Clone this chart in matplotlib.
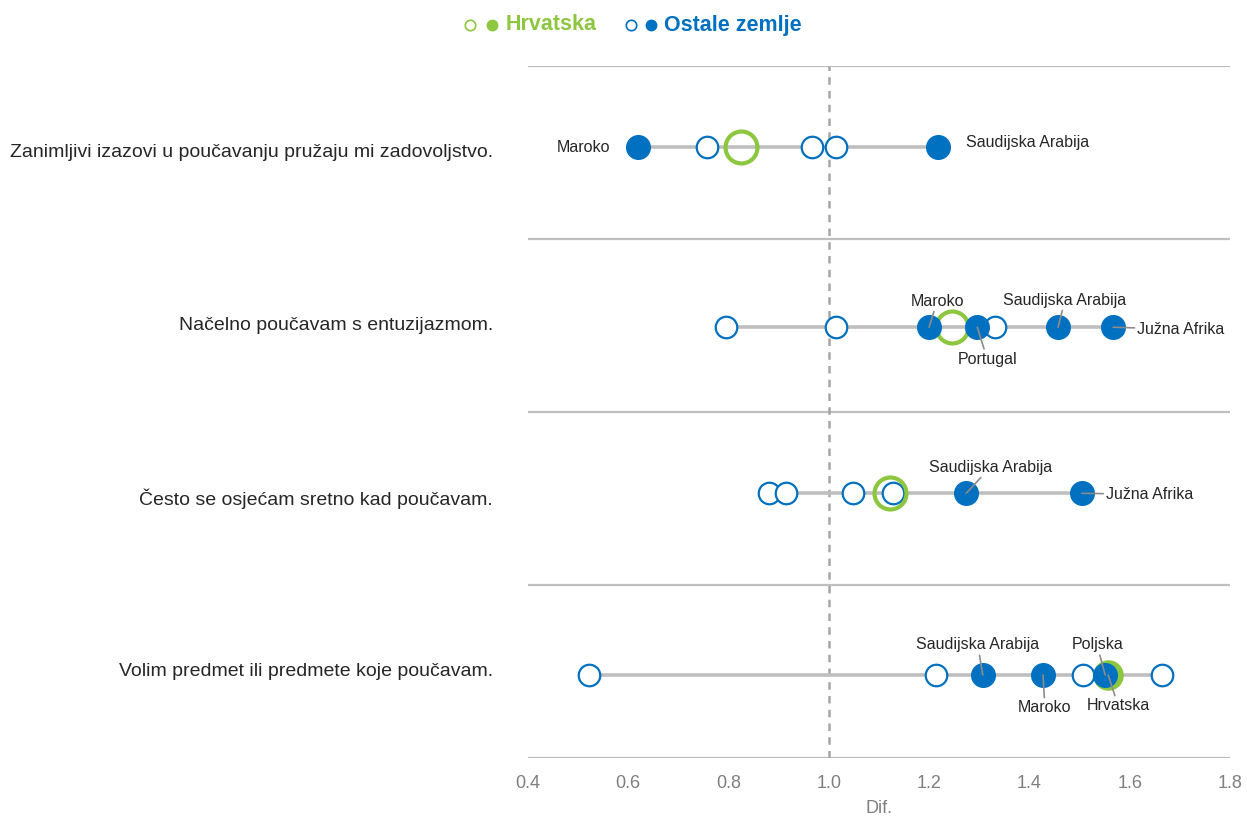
import matplotlib.pyplot as plt
from matplotlib.lines import Line2D

plt.rcParams['font.family'] = ['Liberation Sans', 'DejaVu Sans']

# ---- data ----
categories = ['Zanimljivi izazovi u poučavanju pružaju mi zadovoljstvo.',
              'Načelno poučavam s entuzijazmom.',
              'Često se osjećam sretno kad poučavam.',
              'Volim predmet ili predmete koje poučavam.']
hr_values = [0.825, 1.246, 1.122, 1.557]
hr_filled = [False, False, False, True]
other_open = [[0.757, 0.966, 1.014],
              [0.795, 1.014, 1.331],
              [0.881, 0.915, 1.048, 1.128],
              [0.522, 1.214, 1.507, 1.664]]
other_filled = [[0.619, 1.218],
                [1.200, 1.296, 1.457, 1.567],
                [1.274, 1.505],
                [1.307, 1.427, 1.551]]
filled_names = [['Maroko', 'Saudijska Arabija'],
                ['Maroko', 'Portugal', 'Saudijska Arabija', 'Južna Afrika'],
                ['Saudijska Arabija', 'Južna Afrika'],
                ['Saudijska Arabija', 'Maroko', 'Poljska']]

# ---- layout ----
row_y = [3.53, 2.49, 1.53, 0.48]     # vertical position of the dots in each band
# label offsets in pixels (dx, dy, ha, leader line)
name_offsets = [[(-28, 0, 'right', False), (28, 5, 'left', False)],
                [(8, 26, 'center', True), (10, -32, 'center', True),
                 (7, 27, 'center', True), (24, -2, 'left', True)],
                [(24, 26, 'center', True), (24, -1, 'left', True)],
                [(-5, 30, 'center', True), (2, -33, 'center', True),
                 (-8, 30, 'center', True)]]
hr_label_offset = (10, -31)

GREEN = '#8DC63F'
BLUE = '#0070C0'
GREY_LINE = '#BFBFBF'
LEADER = '#8C8C8C'
TEXT = '#262626'

fig = plt.figure(figsize=(12.47, 8.21), dpi=100)
ax = fig.add_axes([528 / 1247, 1 - 758 / 821, (1230 - 528) / 1247, (758 - 66) / 821])

ax.set_xlim(0.4, 1.8)
ax.set_ylim(0, 4)

# band separators
for yy in range(5):
    ax.axhline(yy, color='#BFBFBF', linewidth=1.6, zorder=1)
ax.axvline(1.0, color='#A6A6A6', linestyle=(0, (3, 2.5)), linewidth=1.8, zorder=1)

for i in range(len(categories)):
    y = row_y[i]
    allx = other_open[i] + other_filled[i] + [hr_values[i]]
    ax.plot([min(allx), max(allx)], [y, y], color=GREY_LINE, linewidth=2.6,
            solid_capstyle='butt', zorder=2)
    ax.plot(other_open[i], [y] * len(other_open[i]), 'o', ms=15.5, mfc='white',
            mec=BLUE, mew=1.6, linestyle='none', zorder=3)
    if hr_filled[i]:
        ax.plot([hr_values[i]], [y], 'o', ms=21, mfc=GREEN, mec=GREEN, zorder=4)
    else:
        ax.plot([hr_values[i]], [y], 'o', ms=23, mfc='none', mec=GREEN, mew=3, zorder=4)
    ax.plot(other_filled[i], [y] * len(other_filled[i]), 'o', ms=17, mfc=BLUE,
            mec=BLUE, linestyle='none', zorder=5)

    for xv, name, (dx, dy, ha, lead) in zip(other_filled[i], filled_names[i], name_offsets[i]):
        kw = {}
        if lead:
            kw['arrowprops'] = dict(arrowstyle='-', color=LEADER, lw=1.2,
                                    shrinkA=0, shrinkB=0)
        ax.annotate(name, xy=(xv, y), xytext=(dx, dy), textcoords='offset pixels',
                    ha=ha, va='center', fontsize=11.5, color=TEXT, zorder=6, **kw)

    ax.text(-0.05, (len(categories) - 1 - i) + 0.5, categories[i], transform=ax.get_yaxis_transform(),
            ha='right', va='center', fontsize=14, color=TEXT)

# Hrvatska label in the last row
ax.annotate('Hrvatska', xy=(hr_values[3], row_y[3]), xytext=hr_label_offset,
            textcoords='offset pixels', ha='center', va='center', fontsize=11.5, color=TEXT,
            zorder=6, arrowprops=dict(arrowstyle='-', color=LEADER, lw=1.2, shrinkA=0, shrinkB=0))

for s in ax.spines.values():
    s.set_visible(False)
ax.set_yticks([])
ax.set_xticks([0.4, 0.6, 0.8, 1.0, 1.2, 1.4, 1.6, 1.8])
ax.set_xticklabels(['0.4', '0.6', '0.8', '1.0', '1.2', '1.4', '1.6', '1.8'])
ax.tick_params(axis='x', length=0, labelsize=13, labelcolor='#7F7F7F', pad=12)
ax.set_xlabel('Dif.', fontsize=13, color='#7F7F7F', labelpad=6)

# legend at the top
ly = 1 - 25 / 821
fig.add_artist(Line2D([470 / 1247], [ly], marker='o', ms=7.5, mfc='white', mec=GREEN, mew=1.2))
fig.add_artist(Line2D([492 / 1247], [ly], marker='o', ms=7.5, mfc=GREEN, mec=GREEN))
fig.text(506 / 1247, ly, 'Hrvatska', color=GREEN, fontsize=15.5, fontweight='bold', va='center')
fig.add_artist(Line2D([631 / 1247], [ly], marker='o', ms=7.5, mfc='white', mec=BLUE, mew=1.2))
fig.add_artist(Line2D([651 / 1247], [ly], marker='o', ms=7.5, mfc=BLUE, mec=BLUE))
fig.text(664 / 1247, ly, 'Ostale zemlje', color=BLUE, fontsize=15.5, fontweight='bold', va='center')

fig.savefig('out.png', dpi=100)
